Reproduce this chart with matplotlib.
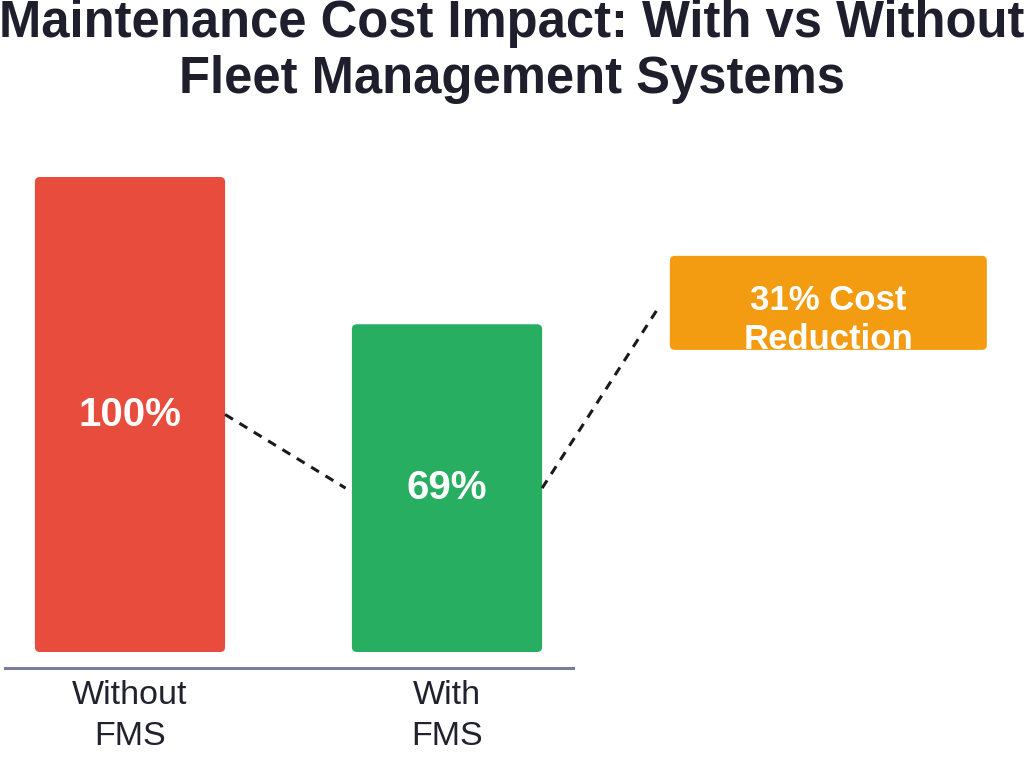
import matplotlib.pyplot as plt
from matplotlib.patches import FancyBboxPatch

plt.rcParams['font.family'] = ['Liberation Sans', 'DejaVu Sans']

# data
categories = ["Without\nFMS", "With\nFMS"]
values = [100, 69]
bar_colors = ["#e74c3c", "#27ae60"]
reduction = values[0] - values[1]
note_text = f"{reduction}% Cost\nReduction"
title_lines = ["Maintenance Cost Impact: With vs Without", "Fleet Management Systems"]

fig = plt.figure(figsize=(10.24, 7.57), dpi=100)
# axes placed so y 0..100 spans the bar area
ax = fig.add_axes([0, 105 / 757, 1, 475 / 757])
px_x = 317.0          # pixels per x unit
px_y = 4.75           # pixels per y unit
ax.set_xlim(-130 / px_x, (1024 - 130) / px_x)
ax.set_ylim(0, 100)
ax.axis("off")

width = 0.6
r = 5  # corner radius in px
xs = list(range(len(categories)))
bars = ax.bar(xs, values, width=width, color=bar_colors)
for b in bars:
    b.set_visible(False)
    p = FancyBboxPatch((b.get_x(), b.get_y()), b.get_width(), b.get_height(),
                       boxstyle=f"round,pad=0,rounding_size={r / px_x}",
                       mutation_aspect=px_x / px_y,
                       fc=b.get_facecolor(), ec="none")
    ax.add_patch(p)

for x, v in zip(xs, values):
    ax.text(x, v / 2, f"{v}%", ha="center", va="center", color="white",
            fontsize=29, fontweight="bold")

# category labels
for x, c in zip(xs, categories):
    ax.text(x, -5.8, c, ha="center", va="top", fontsize=24.5, color="#22222e",
            linespacing=1.42, clip_on=False)

# baseline
ax.axhline(-3.4, xmin=5 / 1024, xmax=573 / 1024, color="#7b7b9b", lw=2.2,
           clip_on=False)

# dashed connectors
dash = dict(color="#1a1a1a", lw=2.2, ls=(0, (3, 2.5)))
ax.plot([width / 2, 1 - width / 2 - 0.02], [values[0] / 2, values[1] / 2], **dash)
ax.plot([1 + width / 2, 1.672], [values[1] / 2, 73], **dash)

# note box
bx0, bx1 = 1.703, 2.703
by0, by1 = 63.6, 83.4
box = FancyBboxPatch((bx0, by0), bx1 - bx0, by1 - by0,
                     boxstyle=f"round,pad=0,rounding_size={r / px_x}",
                     mutation_aspect=px_x / px_y, fc="#f39c12", ec="none")
ax.add_patch(box)
t = ax.text((bx0 + bx1) / 2, 69.9, note_text, ha="center", va="center",
            color="white", fontsize=25, fontweight="bold", linespacing=1.2)
t.set_clip_path(box)

for line, base in zip(title_lines, [37, 93]):
    fig.text(0.5, 1 - base / 757, line, ha="center", va="baseline",
             fontsize=36.5, fontweight="bold", color="#1e1e2c")

fig.savefig("out.png", dpi=100)
